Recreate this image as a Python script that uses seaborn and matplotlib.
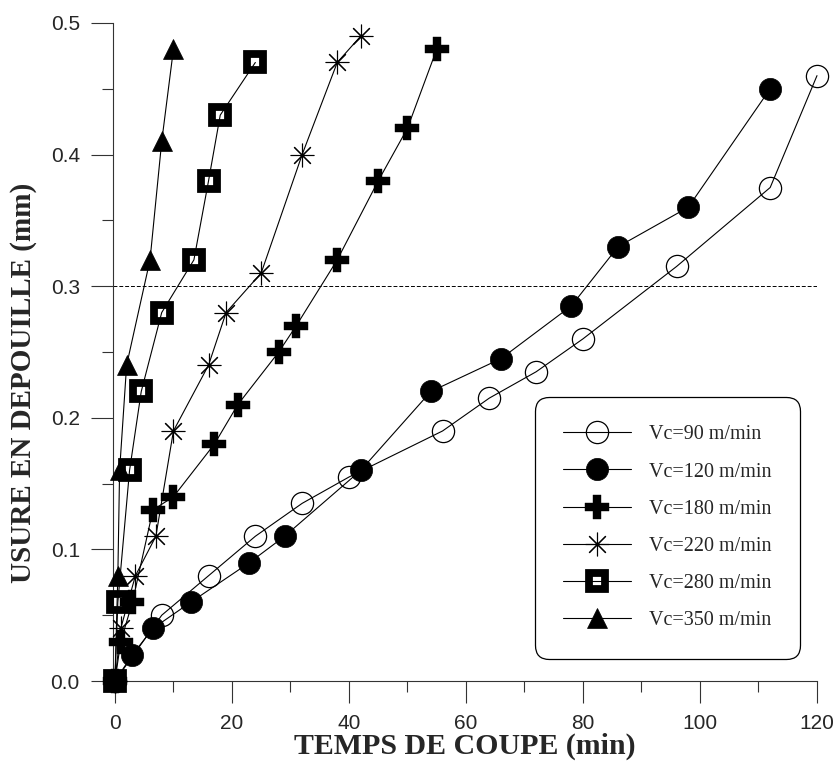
import numpy as np
import pandas as pd
import matplotlib
matplotlib.use("Agg")
import matplotlib.pyplot as plt
from matplotlib.ticker import MultipleLocator, FormatStrFormatter
import seaborn as sns

# temps de coupe (min) and usure en depouille (mm) for each cutting speed
t_90 = [0, 8, 16, 24, 32, 40, 56, 64, 72, 80, 96, 112, 120]
vb_90 = [0, 0.05, 0.08, 0.11, 0.135, 0.155, 0.19, 0.215, 0.235, 0.26, 0.315, 0.375, 0.46]

t_120 = [0, 3, 6.5, 13, 23, 29, 42, 54, 66, 78, 86, 98, 112]
vb_120 = [0, 0.02, 0.04, 0.06, 0.09, 0.11, 0.16, 0.22, 0.245, 0.285, 0.33, 0.36, 0.45]

t_180 = [0, 1, 3, 6.5, 10, 17, 21, 28, 31, 38, 45, 50, 55]
vb_180 = [0, 0.03, 0.06, 0.13, 0.14, 0.18, 0.21, 0.25, 0.27, 0.32, 0.38, 0.42, 0.48]

t_220 = [0, 1, 3.5, 7, 10, 16, 19, 25, 32, 38, 42]
vb_220 = [0, 0.04, 0.08, 0.11, 0.19, 0.24, 0.28, 0.31, 0.40, 0.47, 0.49]

t_280 = [0, 0.5, 2.5, 4.5, 8, 13.5, 16, 18, 24]
vb_280 = [0, 0.06, 0.16, 0.22, 0.28, 0.32, 0.38, 0.43, 0.47]

t_350 = [0, 0.5, 0.8, 2, 6, 8, 10]
vb_350 = [0, 0.08, 0.16, 0.24, 0.32, 0.41, 0.48]

labels = ["Vc=90 m/min", "Vc=120 m/min", "Vc=180 m/min",
          "Vc=220 m/min", "Vc=280 m/min", "Vc=350 m/min"]
vb_limit = 0.3

series = [(t_90, vb_90), (t_120, vb_120), (t_180, vb_180),
          (t_220, vb_220), (t_280, vb_280), (t_350, vb_350)]

styles = [
    dict(marker="o", markersize=16, markerfacecolor="none", markeredgecolor="black", markeredgewidth=0.9),
    dict(marker="o", markersize=16, markerfacecolor="black", markeredgecolor="black", markeredgewidth=0.5),
    dict(marker="P", markersize=17, markerfacecolor="black", markeredgecolor="black", markeredgewidth=0.3),
    dict(marker=(8, 2, 0), markersize=17, markerfacecolor="black", markeredgecolor="black", markeredgewidth=0.8),
    dict(marker="s", markersize=11, markerfacecolor="none", markeredgecolor="black", markeredgewidth=5.6),
    dict(marker="^", markersize=15, markerfacecolor="black", markeredgecolor="black", markeredgewidth=0.5),
]

sns.set_style("ticks")
plt.rcParams["font.family"] = ["Liberation Sans", "DejaVu Sans"]

fig = plt.figure(figsize=(8.37, 7.64), dpi=100)
ax = fig.add_axes([0.1352, 0.1086, 0.8409, 0.8613])

for (t, vb), lab, st in zip(series, labels, styles):
    sns.lineplot(x=t, y=vb, ax=ax, label=lab, color="black", linewidth=0.8,
                 sort=False, estimator=None, legend=False, **st)
for line in ax.lines:
    line.set_clip_on(False)
    line.set_zorder(3)

ax.axhline(vb_limit, color="black", linewidth=0.7, linestyle=(0, (4, 2)), zorder=1)

ax.set_xlim(-0.3, 120)
ax.set_ylim(0, 0.5)
ax.xaxis.set_major_locator(MultipleLocator(20))
ax.xaxis.set_minor_locator(MultipleLocator(10))
ax.yaxis.set_major_locator(MultipleLocator(0.1))
ax.yaxis.set_minor_locator(MultipleLocator(0.05))
ax.yaxis.set_major_formatter(FormatStrFormatter("%.1f"))

ax.tick_params(which="major", direction="out", length=16, width=0.8, pad=8,
               labelsize=15, color="#333333")
ax.tick_params(which="minor", direction="out", length=8, width=0.8, color="#333333")

sns.despine(ax=ax)
for side in ["left", "bottom"]:
    ax.spines[side].set_linewidth(0.8)
    ax.spines[side].set_color("#333333")

ax.set_xlabel("TEMPS DE COUPE (min)", fontfamily="Liberation Serif",
              fontweight="bold", fontsize=21.5)
ax.set_ylabel("USURE EN DEPOUILLE (mm)", fontfamily="Liberation Serif",
              fontweight="bold", fontsize=21)
ax.xaxis.set_label_coords(0.5, -0.078)
ax.yaxis.set_label_coords(-0.108, 0.453)

leg = ax.legend(loc="upper right", bbox_to_anchor=(0.976, 0.4316), borderaxespad=0,
                prop={"family": "Liberation Serif", "size": 14.5},
                handlelength=3.4, handletextpad=0.9, borderpad=1.4,
                labelspacing=0.9, numpoints=1, fancybox=True, framealpha=1)
frame = leg.get_frame()
frame.set_edgecolor("black")
frame.set_linewidth(0.9)
frame.set_boxstyle("round", pad=0, rounding_size=0.7)

fig.savefig("out.png", dpi=100)
